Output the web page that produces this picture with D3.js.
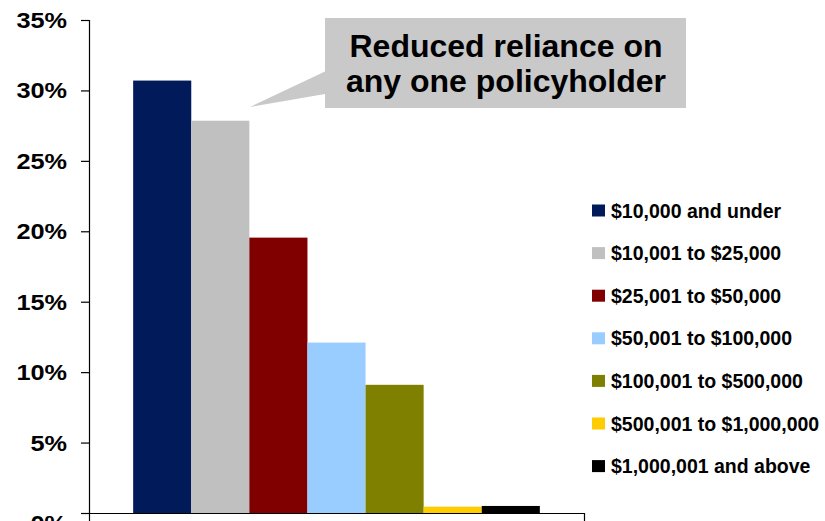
<!DOCTYPE html>
<html>
<head>
<meta charset="utf-8">
<script src="https://cdn.jsdelivr.net/npm/d3@7"></script>
<style>
  html, body { margin: 0; padding: 0; background: #ffffff; }
  svg { display: block; font-family: "Liberation Sans", Arial, sans-serif; }
</style>
</head>
<body>
<svg id="chart" width="825" height="521"></svg>
<script>
// Policy size bands and the share of policyholders in each (percent)
const categories = [
  "$10,000 and under",
  "$10,001 to $25,000",
  "$25,001 to $50,000",
  "$50,001 to $100,000",
  "$100,001 to $500,000",
  "$500,001 to $1,000,000",
  "$1,000,001 and above"
];
const values = [30.7, 27.85, 19.55, 12.1, 9.1, 0.45, 0.5];
const colors = ["#001A5A", "#C0C0C0", "#800000", "#99CCFF", "#808000", "#FFCC00", "#000000"];
const yTicks = [0, 5, 10, 15, 20, 25, 30, 35];
const calloutLines = ["Reduced reliance on", "any one policyholder"];

const svg = d3.select("#chart");

const x = d3.scaleBand()
  .domain(categories)
  .range([89, 584])
  .paddingInner(0)
  .paddingOuter(0.76);

const y = d3.scaleLinear()
  .domain([0, 35])
  .range([513, 20]);

// Bars
svg.append("g")
  .selectAll("rect")
  .data(categories)
  .join("rect")
  .attr("x", d => x(d))
  .attr("width", x.bandwidth())
  .attr("y", (d, i) => y(values[i]))
  .attr("height", (d, i) => y(0) - y(values[i]))
  .attr("fill", (d, i) => colors[i]);

// Y axis
const labelScale = 1.15;
const yAxis = svg.append("g")
  .attr("transform", "translate(89,0)")
  .call(d3.axisLeft(y).tickValues(yTicks).tickSize(8).tickPadding(14).tickFormat(d => d + "%"));
yAxis.select(".domain").attr("stroke", "#000").attr("stroke-width", 1.2);
yAxis.selectAll(".tick line").attr("stroke", "#000").attr("stroke-width", 1.2);
yAxis.selectAll(".tick text")
  .attr("fill", "#000")
  .style("font-size", "22px")
  .style("font-weight", "bold")
  .attr("x", -22 / labelScale)
  .attr("transform", `scale(${labelScale},1)`)
  .attr("dy", d => d === 0 ? "0.8em" : "0.34em");

// X axis baseline with end ticks
const xAxis = svg.append("g")
  .attr("transform", `translate(0,${y(0)})`)
  .call(d3.axisBottom(x).tickValues([]).tickSizeOuter(8));
xAxis.select(".domain").attr("stroke", "#000").attr("stroke-width", 1.2);

// Legend
const legend = svg.append("g")
  .selectAll("g")
  .data(categories)
  .join("g")
  .attr("transform", (d, i) => `translate(592,${210.5 + i * 42.6})`);
legend.append("rect")
  .attr("x", 0).attr("y", -6)
  .attr("width", 13).attr("height", 12)
  .attr("fill", (d, i) => colors[i]);
legend.append("text")
  .attr("x", 19)
  .attr("dy", "0.36em")
  .style("font-size", "19.5px")
  .style("font-weight", "bold")
  .attr("fill", "#000")
  .text(d => d);

// Callout box with pointer
const callout = svg.append("g");
const path = d3.path();
path.moveTo(325, 18);
path.lineTo(686, 18);
path.lineTo(686, 108);
path.lineTo(325, 108);
path.lineTo(325, 94);
path.lineTo(250, 107);
path.lineTo(325, 71.5);
path.closePath();
callout.append("path")
  .attr("d", path.toString())
  .attr("fill", "#C9C9C9");
callout.selectAll("text")
  .data(calloutLines)
  .join("text")
  .attr("x", 506)
  .attr("y", (d, i) => 57 + i * 35)
  .attr("text-anchor", "middle")
  .style("font-size", "32px")
  .style("font-weight", "bold")
  .attr("fill", "#000")
  .text(d => d);
</script>
</body>
</html>
